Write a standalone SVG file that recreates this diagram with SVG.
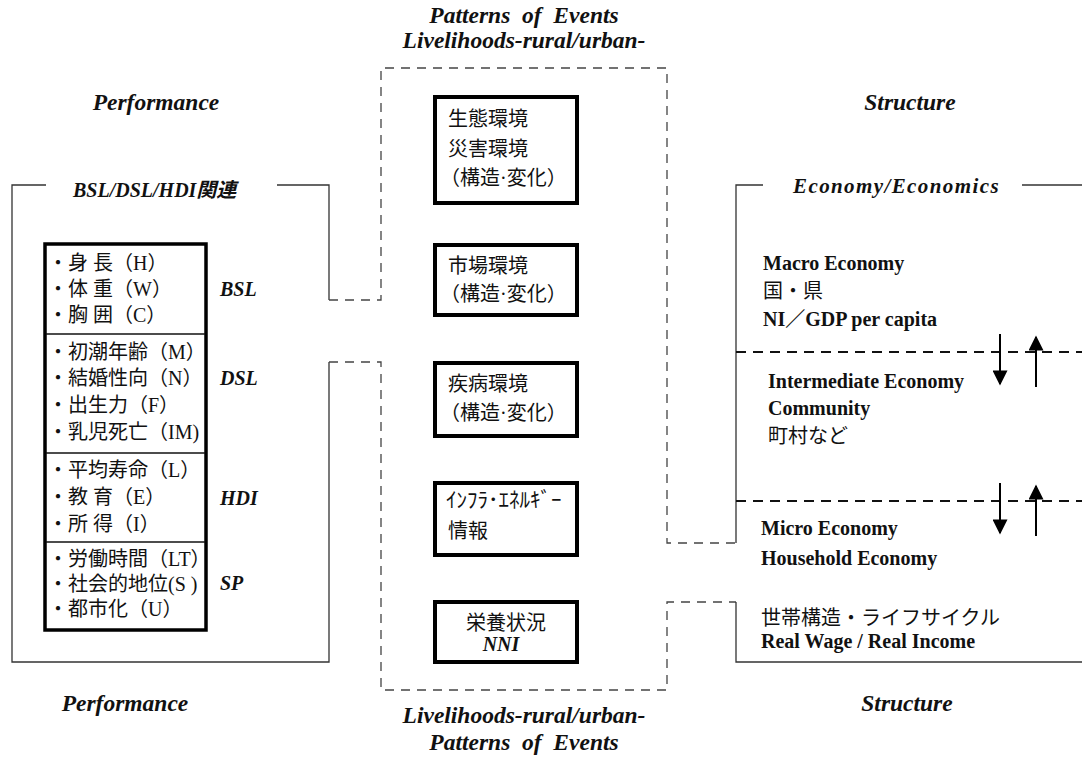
<svg xmlns="http://www.w3.org/2000/svg" width="1082" height="757" viewBox="0 0 1082 757">
<defs>
<style>
.t{font-family:"Liberation Serif","Noto Sans CJK JP",serif;font-size:20px;fill:#111}
.b{font-weight:bold}
.bi{font-weight:bold;font-style:italic}
.ti{font-family:"Liberation Serif","Noto Sans CJK JP",serif;font-size:23.5px;font-weight:bold;font-style:italic;fill:#111;text-anchor:middle}
.mid{text-anchor:middle}
.solid{fill:none;stroke:#333;stroke-width:1.3}
.dash{fill:none;stroke:#444;stroke-width:1.3;stroke-dasharray:9 7}
.sep{fill:none;stroke:#111;stroke-width:2;stroke-dasharray:10 7}
.box{fill:#fff;stroke:#000;stroke-width:4}
.lbox{fill:#fff;stroke:#000;stroke-width:3.5}
.rule{stroke:#111;stroke-width:1.6}
.arr{stroke:#000;stroke-width:2;fill:none}
</style>
<marker id="ah" viewBox="0 0 10 10" refX="9" refY="5" markerWidth="8" markerHeight="7.5" markerUnits="strokeWidth" orient="auto">
<path d="M0,0 L10,5 L0,10 Z" fill="#000"/>
</marker>
</defs>
<rect width="1082" height="757" fill="#fff"/>

<g id="titles">
<text class="ti" x="524" y="23" xml:space="preserve">Patterns  of  Events</text>
<text class="ti" x="524" y="48">Livelihoods-rural/urban-</text>
<text class="ti" x="524" y="723">Livelihoods-rural/urban-</text>
<text class="ti" x="524" y="750" xml:space="preserve">Patterns  of  Events</text>
<text class="ti" x="156" y="110">Performance</text>
<text class="ti" x="125" y="711">Performance</text>
<text class="ti" x="910" y="110">Structure</text>
<text class="ti" x="907" y="711">Structure</text>
</g>

<g id="connectors">
<path class="solid" d="M46,185 H12 V662 H329 V362"/>
<path class="solid" d="M277,185 H329 V300"/>
<path class="dash" d="M329,300 H381 V68 H667 V543 H736"/>
<path class="dash" d="M329,362 H381 V690 H667 V602 H736"/>
<path class="solid" d="M763,185 H736 V543"/>
<path class="solid" d="M1022,185 H1082"/>
<path class="solid" d="M736,602 V662 H1082"/>
<path class="sep" d="M736,352 H1082"/>
<path class="sep" d="M736,501 H1082"/>
<path class="arr" d="M1000,334 V384" marker-end="url(#ah)"/>
<path class="arr" d="M1036,387 V337" marker-end="url(#ah)"/>
<path class="arr" d="M1000,483 V533" marker-end="url(#ah)"/>
<path class="arr" d="M1036,536 V486" marker-end="url(#ah)"/>
</g>

<g id="performance-frame">
<text class="t bi" x="73" y="197">BSL/DSL/HDI関連</text>
</g>

<g id="indicator-list">
<rect class="lbox" x="45" y="244" width="161" height="386"/>
<line class="rule" x1="46" y1="334" x2="205" y2="334"/>
<line class="rule" x1="46" y1="453" x2="205" y2="453"/>
<line class="rule" x1="46" y1="542" x2="205" y2="542"/>
<text class="t" x="48" y="270">・身 長（H）</text>
<text class="t" x="48" y="296">・体 重（W）</text>
<text class="t" x="48" y="322">・胸 囲（C）</text>
<text class="t" x="48" y="359">・初潮年齢（M）</text>
<text class="t" x="48" y="385">・結婚性向（N）</text>
<text class="t" x="48" y="412">・出生力（F）</text>
<text class="t" x="48" y="439">・乳児死亡（IM)</text>
<text class="t" x="48" y="477">・平均寿命（L）</text>
<text class="t" x="48" y="504">・教 育（E）</text>
<text class="t" x="48" y="531">・所 得（I）</text>
<text class="t" x="48" y="566">・労働時間（LT）</text>
<text class="t" x="48" y="591" xml:space="preserve">・社会的地位(S )</text>
<text class="t" x="48" y="616">・都市化（U）</text>
<text class="t bi" x="220" y="296">BSL</text>
<text class="t bi" x="220" y="385">DSL</text>
<text class="t bi" x="220" y="505">HDI</text>
<text class="t bi" x="220" y="590">SP</text>
</g>

<g id="env-ecology">
<rect class="box" x="435" y="97" width="142" height="106"/>
<text class="t" x="448" y="126">生態環境</text>
<text class="t" x="448" y="156">災害環境</text>
<text class="t" x="440" y="185">（構造·変化）</text>
</g>

<g id="env-market">
<rect class="box" x="435" y="245" width="142" height="70"/>
<text class="t" x="448" y="273">市場環境</text>
<text class="t" x="440" y="301">（構造·変化）</text>
</g>

<g id="env-disease">
<rect class="box" x="435" y="363" width="142" height="73"/>
<text class="t" x="448" y="391">疾病環境</text>
<text class="t" x="440" y="420">（構造·変化）</text>
</g>

<g id="env-infra">
<rect class="box" x="435" y="483" width="142" height="72"/>
<text class="t" x="446" y="507" style="font-size:21px">ｲﾝﾌﾗ･ｴﾈﾙｷﾞｰ</text>
<text class="t" x="448" y="538">情報</text>
</g>

<g id="env-nutrition">
<rect class="box" x="435" y="602" width="142" height="60"/>
<text class="t mid" x="506" y="630">栄養状況</text>
<text class="t bi mid" x="501" y="651">NNI</text>
</g>

<g id="structure-frame">
<text class="t bi" x="793" y="193" style="font-size:21px;letter-spacing:1.4px">Economy/Economics</text>
</g>

<g id="macro">
<text class="t b" x="763" y="270">Macro Economy</text>
<text class="t" x="763" y="298">国・県</text>
<text class="t b" x="763" y="326">NI／GDP per capita</text>
</g>

<g id="intermediate">
<text class="t b" x="768" y="388">Intermediate Economy</text>
<text class="t b" x="768" y="415">Community</text>
<text class="t" x="768" y="443">町村など</text>
</g>

<g id="micro">
<text class="t b" x="761" y="535">Micro Economy</text>
<text class="t b" x="761" y="565">Household Economy</text>
</g>

<g id="household">
<text class="t" x="761" y="625">世帯構造・ライフサイクル</text>
<text class="t b" x="761" y="648">Real Wage / Real Income</text>
</g>
</svg>
